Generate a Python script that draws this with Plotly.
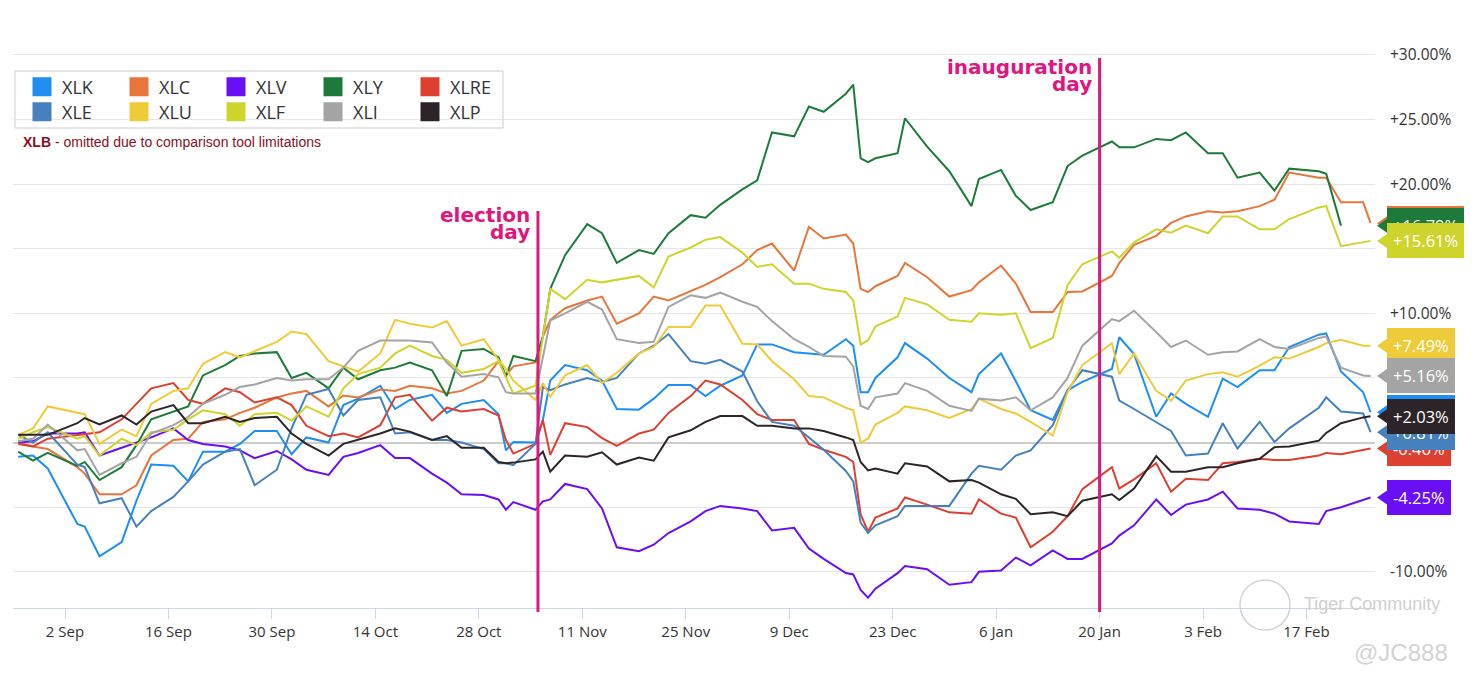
import plotly.graph_objects as go

# ---------------- data (percent change vs. start) ----------------
dates = ["2024-08-26", "2024-08-28", "2024-08-30", "2024-09-03", "2024-09-04", "2024-09-06",
         "2024-09-09", "2024-09-11", "2024-09-13", "2024-09-16", "2024-09-18", "2024-09-20",
         "2024-09-23", "2024-09-25", "2024-09-27", "2024-09-30", "2024-10-02", "2024-10-04",
         "2024-10-07", "2024-10-09", "2024-10-11", "2024-10-14", "2024-10-16", "2024-10-18",
         "2024-10-21", "2024-10-23", "2024-10-25", "2024-10-28", "2024-10-30", "2024-10-31",
         "2024-11-01", "2024-11-04", "2024-11-05", "2024-11-06", "2024-11-08", "2024-11-11",
         "2024-11-13", "2024-11-15", "2024-11-18", "2024-11-20", "2024-11-22", "2024-11-25",
         "2024-11-27", "2024-11-29", "2024-12-02", "2024-12-04", "2024-12-06", "2024-12-09",
         "2024-12-11", "2024-12-13", "2024-12-16", "2024-12-17", "2024-12-18", "2024-12-19",
         "2024-12-20", "2024-12-23", "2024-12-24", "2024-12-27", "2024-12-30", "2025-01-02",
         "2025-01-03", "2025-01-06", "2025-01-08", "2025-01-10", "2025-01-13", "2025-01-15",
         "2025-01-17", "2025-01-21", "2025-01-22", "2025-01-24", "2025-01-27", "2025-01-29",
         "2025-01-31", "2025-02-03", "2025-02-05", "2025-02-07", "2025-02-10", "2025-02-12",
         "2025-02-14", "2025-02-18", "2025-02-19", "2025-02-21", "2025-02-24", "2025-02-25"]

XLK = [-1.1, -1.0, -2.0, -6.3, -6.5, -8.8, -7.7, -4.5, -1.7, -1.8,
       -3.0, -0.7, -0.7, -0.1, 0.9, 0.9, -0.9, 0.4, 0.0, 2.9,
       3.4, 4.4, 2.6, 3.3, 3.7, 2.3, 3.0, 3.3, 2.2, -0.6,
       0.05, 0.0, 1.75, 4.8, 6.0, 5.6, 4.8, 2.6, 2.55, 3.4,
       4.45, 4.45, 3.6, 4.4, 5.2, 7.6, 7.6, 7.0, 6.9, 6.8,
       8.0, 7.5, 3.9, 3.9, 5.0, 6.6, 7.7, 6.5, 5.0, 3.9,
       5.3, 6.9, 4.75, 2.5, 1.75, 4.05, 4.7, 5.7, 8.15, 6.85,
       2.0, 3.8, 3.0, 2.0, 4.95, 4.3, 5.6, 5.6, 7.4, 8.35,
       8.45, 5.5, 3.9, 2.35]
XLC = [0.0, -0.3, -0.5, -1.9, -2.4, -4.0, -4.0, -3.3, -1.0, 0.2,
       0.3, 1.6, 1.8, 2.3, 2.7, 3.5, 3.8, 4.0, 2.8, 3.65,
       3.5, 4.1, 4.0, 4.4, 4.2, 3.8, 4.0, 4.8, 6.3, 5.2,
       5.9, 6.2, 8.2, 9.5, 10.4, 11.0, 11.3, 9.2, 10.0, 11.3,
       11.0, 11.7, 12.2, 12.8, 13.8, 14.9, 15.4, 13.3, 16.7, 15.8,
       16.1, 15.4, 11.9, 11.65, 12.1, 12.9, 13.9, 12.8, 11.3, 11.8,
       12.4, 13.7, 12.3, 10.1, 10.1, 11.65, 11.7, 12.9, 13.9, 15.3,
       16.0, 17.0, 17.5, 17.9, 17.8, 17.9, 18.3, 18.8, 20.9, 20.5,
       20.5, 18.6, 18.6, 16.98]
XLV = [0.0, 0.1, 0.7, 0.7, 0.8, -1.0, -0.4, 0.0, 0.4, 1.1,
       0.2, -0.1, -0.3, -0.6, -1.2, -0.65, -1.3, -2.1, -2.5, -1.1,
       -0.8, -0.2, -1.2, -1.2, -2.4, -3.1, -4.0, -4.05, -4.4, -5.2,
       -4.6, -5.2, -4.55, -4.4, -3.2, -3.6, -5.1, -8.1, -8.4, -7.9,
       -7.0, -6.1, -5.3, -4.9, -5.1, -5.3, -6.8, -6.6, -8.2, -9.0,
       -10.1, -10.2, -11.4, -12.0, -11.3, -10.1, -9.55, -9.8, -11.0, -10.8,
       -10.0, -9.9, -8.9, -9.5, -8.35, -9.0, -9.0, -7.8, -7.2, -6.4,
       -4.4, -5.6, -4.8, -4.4, -3.8, -5.1, -5.2, -5.5, -6.1, -6.3,
       -5.3, -5.0, -4.4, -4.25]
XLY = [-0.7, -1.4, -0.8, -1.8, -1.5, -2.9, -1.9, -0.2, 1.8, 2.4,
       2.8, 5.2, 6.0, 6.7, 6.9, 7.0, 5.0, 5.4, 4.2, 5.8,
       4.9, 5.6, 5.8, 6.2, 5.6, 3.6, 7.1, 7.25, 6.6, 5.1,
       6.7, 6.3, 8.2, 11.9, 14.5, 16.9, 16.2, 13.9, 14.9, 14.6,
       16.2, 17.6, 17.4, 18.4, 19.6, 20.3, 24.0, 23.7, 26.0, 25.6,
       27.0, 27.7, 22.0, 21.7, 22.0, 22.4, 25.1, 22.9, 21.0, 18.3,
       20.4, 21.1, 19.1, 18.0, 18.6, 21.4, 22.2, 23.3, 22.85, 22.85,
       23.5, 23.4, 24.0, 22.4, 22.4, 20.5, 20.9, 19.5, 21.2, 21.0,
       20.8, 16.79, None, None]
XLRE = [-0.1, -0.3, 0.3, 0.6, 0.7, 0.8, 1.8, 3.0, 4.2, 4.6,
        3.3, 3.0, 4.2, 3.9, 3.1, 3.5, 2.9, 1.3, 0.5, 0.7,
        0.4, 1.35, 3.5, 3.7, 1.7, 2.7, 2.4, 2.6, 2.1, 0.2,
        -0.85, -0.1, 1.75, -0.95, 1.5, 1.2, 0.35, -0.25, 0.7, 1.0,
        2.3, 3.6, 4.8, 4.5, 3.3, 2.2, 1.75, 1.75, -0.1, -0.55,
        -1.1, -1.5, -5.55, -6.9, -5.8, -5.1, -4.25, -4.8, -5.4, -5.5,
        -4.4, -5.5, -5.8, -8.1, -6.9, -5.7, -3.6, -1.9, -3.55, -2.85,
        -1.6, -3.8, -2.8, -2.9, -1.6, -1.5, -1.25, -1.35, -1.35, -1.0,
        -0.8, -0.9, -0.6, -0.46]
XLE = [0.6, 0.0, 0.8, -1.7, -1.9, -4.7, -4.3, -6.5, -5.3, -4.2,
       -3.0, -1.7, -0.7, -0.5, -3.3, -2.1, 1.1, 3.7, 4.15, 2.1,
       3.3, 3.5, 0.7, 0.8, 0.2, 0.2, 0.0, -0.5, -1.6, -1.6,
       -1.75, -0.1, 4.3, 4.05, 4.5, 5.0, 4.7, 5.0, 6.9, 7.5,
       8.4, 6.3, 6.1, 6.4, 5.5, 3.2, 1.6, 1.3, 0.4, -0.55,
       -2.2, -3.0, -6.2, -7.0, -6.4, -5.7, -4.9, -4.9, -4.9, -2.4,
       -1.8, -2.1, -1.0, -0.6, 1.35, 4.05, 5.6, 5.1, 3.25, 2.6,
       1.6, 0.9, -1.0, -0.85, 1.5, -0.45, 1.6, 0.05, 1.1, 2.7,
       3.5, 2.4, 2.25, 0.81]
XLU = [0.6, 1.1, 2.8, 2.3, 2.2, -0.1, 1.0, 0.5, 3.0, 4.0,
       4.2, 6.1, 7.0, 6.6, 7.1, 7.8, 8.6, 8.4, 6.3, 5.9,
       5.5, 6.9, 9.5, 9.2, 8.9, 9.4, 7.5, 8.0, 6.4, 5.7,
       4.8, 3.3, 4.6, 3.55, 5.2, 6.0, 4.6, 5.4, 6.9, 7.4,
       8.95, 8.95, 10.6, 10.6, 7.65, 7.6, 6.3, 4.9, 3.6, 3.5,
       2.7, 2.5, 0.0, 0.3, 1.4, 2.3, 2.8, 2.5, 1.9, 2.6,
       3.4, 2.6, 2.25, 1.6, 0.55, 3.9, 6.0, 7.7, 5.3, 6.9,
       4.0, 3.25, 4.8, 5.3, 5.45, 5.1, 5.95, 6.6, 6.5, 7.4,
       7.7, 7.95, 7.5, 7.49]
XLF = [0.3, 0.8, 1.2, 0.3, 0.5, -1.0, 0.3, -0.2, 0.8, 1.0,
       1.8, 2.5, 2.2, 1.3, 2.2, 2.3, 1.7, 2.8, 2.0, 4.2,
       5.3, 5.8, 6.9, 7.5, 6.7, 6.4, 5.4, 5.7, 6.3, 5.1,
       3.8, 4.4, 8.0, 11.9, 11.1, 12.6, 12.4, 12.6, 12.9, 12.0,
       14.4, 15.1, 15.7, 15.9, 14.7, 13.6, 13.8, 12.3, 12.3, 11.9,
       11.65, 11.0, 7.6, 7.9, 9.0, 9.75, 11.2, 10.7, 9.5, 9.35,
       10.0, 9.9, 10.0, 7.3, 8.1, 12.2, 13.8, 14.8, 14.3, 15.5,
       16.5, 16.25, 16.8, 16.2, 17.5, 17.5, 16.5, 16.5, 17.3, 18.2,
       18.3, 15.2, 15.5, 15.61]
XLI = [0.1, 0.3, 1.4, -0.6, -0.5, -2.5, -1.6, -1.1, 0.7, 1.35,
       2.0, 3.0, 3.7, 4.3, 4.5, 5.0, 4.8, 4.9, 4.9, 5.8,
       7.1, 7.9, 7.9, 7.9, 7.75, 6.2, 5.1, 5.3, 5.05, 3.9,
       3.8, 3.8, 6.6, 9.45, 10.0, 10.9, 10.3, 8.0, 7.7, 7.8,
       10.5, 11.4, 11.2, 11.6, 10.9, 10.5, 9.4, 8.0, 7.4, 6.7,
       6.65, 5.9, 2.85, 2.6, 3.5, 3.8, 4.6, 4.0, 2.85, 2.45,
       3.4, 3.25, 3.5, 2.5, 3.5, 5.0, 7.5, 9.55, 9.4, 10.2,
       8.55, 7.4, 7.9, 6.8, 7.0, 7.05, 8.0, 7.4, 7.25, 8.1,
       8.2, 5.8, 5.2, 5.16]
XLP = [0.6, 0.6, 0.6, 1.5, 1.9, 1.4, 2.1, 1.4, 2.4, 2.9,
       1.5, 1.5, 2.0, 1.6, 1.9, 2.0, 0.7, -0.1, -1.0, -0.1,
       0.2, 0.7, 1.1, 0.85, 0.2, 0.5, -0.4, -0.4, -1.5, -1.6,
       -1.55, -1.3, -0.7, -2.25, -1.0, -1.1, -0.75, -1.7, -1.15, -1.4,
       0.4, 0.95, 1.6, 2.05, 2.05, 1.3, 1.3, 1.1, 1.1, 0.9,
       0.4, 0.2, -1.5, -2.15, -2.0, -2.4, -1.6, -1.85, -3.0, -2.9,
       -3.1, -4.0, -4.35, -5.55, -5.4, -5.7, -4.5, -4.0, -4.45, -3.55,
       -1.05, -2.25, -2.25, -1.9, -1.9, -1.6, -1.25, -0.35, -0.3, 0.15,
       0.75, 1.5, 1.95, 2.03]

legend_row1 = ["XLK", "XLC", "XLV", "XLY", "XLRE"]
legend_row2 = ["XLE", "XLU", "XLF", "XLI", "XLP"]
y_ticks = [-10, -5, 0, 5, 10, 15, 20, 25, 30]
y_ticklabels = ["%+.2f%%" % v for v in y_ticks]
events = [("2024-11-05", ["election", "day"]), ("2025-01-20", ["inauguration", "day"])]

# ---------------- styling ----------------
series = {"XLK": XLK, "XLC": XLC, "XLV": XLV, "XLY": XLY, "XLRE": XLRE,
          "XLE": XLE, "XLU": XLU, "XLF": XLF, "XLI": XLI, "XLP": XLP}
colors = {"XLK": "#1f8ef1", "XLC": "#e8753c", "XLV": "#6a0ef5", "XLY": "#1e7a3b",
          "XLRE": "#dd3f31", "XLE": "#4781bd", "XLU": "#eecb38", "XLF": "#cfd42d",
          "XLI": "#a4a4a4", "XLP": "#2c2428"}
draw_order = ["XLK", "XLC", "XLV", "XLY", "XLRE", "XLE", "XLU", "XLF", "XLI", "XLP"]
flag_order = ["XLC", "XLY", "XLF", "XLU", "XLI", "XLRE", "XLE", "XLK", "XLP", "XLV"]

W, H = 1476, 686
ML, MR, MT, MB = 13, 101, 42, 78
PW, PH = W - ML - MR, H - MT - MB
YR = [-12.8, 31]
px_per_unit = PH / (YR[1] - YR[0])


def px_x(px):
    return (px - ML) / PW


def px_y(py):
    return (H - MB - py) / PH


xs = [d + " 16:00" for d in dates]

fig = go.Figure()
for name in draw_order:
    fig.add_trace(go.Scatter(x=xs, y=series[name], mode="lines", name=name,
                             line=dict(color=colors[name], width=2),
                             showlegend=False, hoverinfo="skip"))

# legend entries (rounded squares in original)
for row, lg in ((legend_row1, "legend"), (legend_row2, "legend2")):
    for name in row:
        fig.add_trace(go.Scatter(x=[None], y=[None], mode="markers", name=name,
                                 marker=dict(symbol="square", size=16, color=colors[name],
                                             line=dict(color=colors[name], width=3)),
                                 legend=lg, showlegend=True))

shapes = []
annotations = []

# legend frame
shapes.append(dict(type="rect", xref="paper", yref="paper",
                   x0=px_x(15), x1=px_x(503), y0=px_y(128), y1=px_y(71),
                   line=dict(color="#cccccc", width=1), fillcolor="white", layer="between"))
annotations.append(dict(xref="paper", yref="paper", x=px_x(21), y=px_y(142),
                        xanchor="left", yanchor="middle", showarrow=False,
                        text="<b>XLB</b> - omitted due to comparison tool limitations",
                        font=dict(family="Liberation Sans, Arial", size=14, color="#8a1026")))

# event lines and labels
event_tops = [211, 58]
label_ys = [(215, 232), (67, 84)]
for (d, words), top, (y1, y2) in zip(events, event_tops, label_ys):
    shapes.append(dict(type="line", xref="x", yref="paper", x0=d, x1=d,
                       y0=px_y(612), y1=px_y(top), line=dict(color="#da1a7e", width=3),
                       layer="above"))
    for w, yy in zip(words, (y1, y2)):
        annotations.append(dict(xref="x", yref="paper", x=d, xshift=-6, y=px_y(yy),
                                xanchor="right", yanchor="middle", showarrow=False,
                                text="<b>%s</b>" % w,
                                font=dict(family="DejaVu Sans", size=20, color="#e0167e")))

# end-value flags
tip_x, base_x = px_x(1377), px_x(1387)
half = 7 / px_per_unit
for name in flag_order:
    vals = [v for v in series[name] if v is not None]
    v = vals[-1]
    c = colors[name]
    shapes.append(dict(type="path", xref="paper", yref="y",
                       path="M %f,%f L %f,%f L %f,%f Z" % (tip_x, v, base_x, v + half, base_x, v - half),
                       fillcolor=c, line=dict(width=0), layer="above"))
    annotations.append(dict(xref="paper", yref="y", x=base_x, y=v, xanchor="left",
                            yanchor="middle", showarrow=False, text="%+.2f%%" % v,
                            bgcolor=c, bordercolor=c, borderpad=5,
                            font=dict(family="Open Sans", size=16.5, color="white")))

# watermark
shapes.append(dict(type="circle", xref="paper", yref="paper",
                   x0=px_x(1240), x1=px_x(1290), y0=px_y(630), y1=px_y(580),
                   line=dict(color="#d2d2d2", width=1.5), layer="above"))
annotations.append(dict(xref="paper", yref="paper", x=px_x(1372), y=px_y(604),
                        xanchor="center", yanchor="middle",
                        showarrow=False, text="Tiger Community",
                        font=dict(family="Liberation Sans", size=18, color="#d0d0d0")))
annotations.append(dict(xref="paper", yref="paper", x=px_x(1401), y=px_y(653),
                        xanchor="center", yanchor="middle",
                        showarrow=False, text="@JC888",
                        font=dict(family="Liberation Sans", size=24, color="#d3d3d3")))

fig.update_layout(
    width=W, height=H,
    margin=dict(l=ML, r=MR, t=MT, b=MB),
    paper_bgcolor="white", plot_bgcolor="white",
    shapes=shapes, annotations=annotations,
    legend=dict(orientation="h", x=px_x(22), y=px_y(87), xanchor="left", yanchor="middle",
                bgcolor="rgba(0,0,0,0)", entrywidth=52, itemclick=False,
                font=dict(family="Open Sans", size=18, color="#333333")),
    legend2=dict(orientation="h", x=px_x(22), y=px_y(112), xanchor="left", yanchor="middle",
                 bgcolor="rgba(0,0,0,0)", entrywidth=52, itemclick=False,
                 font=dict(family="Open Sans", size=18, color="#333333")),
    xaxis=dict(type="date", range=["2024-08-25 23:07", "2025-02-26 06:28"],
               tick0="2024-09-02", dtick=14 * 86400000, tickformat="%-d %b",
               ticks="outside", ticklen=10, tickcolor="#ccd6eb",
               showline=True, linecolor="#ccd6eb", linewidth=1, showgrid=False,
               zeroline=False,
               tickfont=dict(family="Open Sans", size=15, color="#333333")),
    yaxis=dict(side="right", range=YR, tickmode="array", tickvals=y_ticks,
               ticktext=y_ticklabels,
               showgrid=True, gridcolor="#e6e6e6", gridwidth=1,
               zeroline=True, zerolinecolor="#cccccc", zerolinewidth=2,
               showline=False, ticks="", ticklabelstandoff=14,
               tickfont=dict(family="Open Sans", size=15.5, color="#333333")),
)

fig.write_html("out.html", config={"displayModeBar": False},
               post_script="document.body.style.margin='0px';")
